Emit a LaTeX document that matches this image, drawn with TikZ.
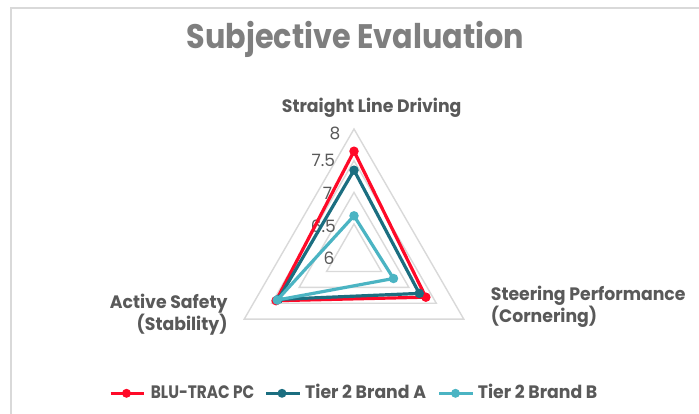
\documentclass[tikz,border=0pt]{standalone}
\usepackage{fontspec}
\setmainfont{Poppins}[FakeStretch=0.96]
\newfontfamily\titlefont{Poppins}[FakeStretch=0.89]
\newfontfamily\capsfont{Poppins}[FakeStretch=0.85]
\newfontfamily\numfont{Poppins}
\usepackage{tikz}
\usetikzlibrary{positioning}

\definecolor{blutrac}{HTML}{FF0A28}
\definecolor{brandA}{HTML}{1B6E80}
\definecolor{brandB}{HTML}{4BB4C3}
\definecolor{gridgray}{HTML}{D9D9D9}
\definecolor{txtgray}{HTML}{595959}
\definecolor{titlegray}{HTML}{7F7F7F}

\begin{document}
\begin{tikzpicture}[x=1pt,y=-1pt]
	
	\tikzset{grid/.style = {draw=gridgray, line width=1.4pt}}
	\tikzset{series/.style = {line width=3.2pt, line join=round}}
	\tikzset{dot/.style = {shape=circle, inner sep=0pt, minimum size=9.5pt}}
	\tikzset{axislabel/.style = {font=\bfseries\fontsize{18}{17.5}\selectfont, text=txtgray, inner sep=0pt}}
	\tikzset{ticklabel/.style = {font=\numfont\fontsize{17}{17}\selectfont, text=txtgray, inner sep=0pt}}
	
	\useasboundingbox (0,0) rectangle (699,414);
	\fill[white] (0,0) rectangle (699,414);
	\draw[grid] (11,420) -- (11,8) -- (710,8);
	
	\node[font=\titlefont\bfseries\fontsize{34}{34}\selectfont, text=titlegray, anchor=base, inner sep=0pt] (title) at (355.5,49) {Subjective Evaluation};
	
	\begin{scope}[shift={(354,255.7)}, y=1pt]
	% grid: 6.5, 7, 7.5, 8
	\draw[grid] (90:31.7) -- (210:31.7) -- (330:31.7) -- cycle;
	\draw[grid] (90:63.3) -- (210:63.3) -- (330:63.3) -- cycle;
	\draw[grid] (90:95) -- (210:95) -- (330:95) -- cycle;
	\draw[grid] (90:126.7) -- (210:126.7) -- (330:126.7) -- cycle;
	
	\node[ticklabel] (t8) at (-19,122.4) {8};
	\node[ticklabel] (t75) at (-30.6,95.2) {7.5};
	\node[ticklabel] (t7) at (-26.6,62.7) {7};
	\node[ticklabel] (t65) at (-30.6,29.9) {6.5};
	\node[ticklabel] (t6) at (-25,-2.1) {6};
	
	% BLU-TRAC PC
	\coordinate (r1) at (90:104.5);
	\coordinate (r2) at (330:83);
	\coordinate (r3) at (210:90);
	\draw[series, blutrac] (r1) -- (r2) -- (r3) -- cycle;
	\node[dot, fill=blutrac] (r1dot) at (r1) {};
	\node[dot, fill=blutrac] (r2dot) at (r2) {};
	\node[dot, fill=blutrac] (r3dot) at (r3) {};
	
	% Tier 2 Brand A
	\coordinate (a1) at (90:85.5);
	\coordinate (a2) at (330:75.4);
	\coordinate (a3) at (210:87.4);
	\draw[series, brandA] (a1) -- (a2) -- (a3) -- cycle;
	\node[dot, fill=brandA] (a1dot) at (a1) {};
	\node[dot, fill=brandA] (a2dot) at (a2) {};
	\node[dot, fill=brandA] (a3dot) at (a3) {};
	
	% Tier 2 Brand B
	\coordinate (b1) at (90:39.9);
	\coordinate (b2) at (330:45.6);
	\coordinate (b3) at (210:88.7);
	\draw[series, brandB] (b1) -- (b2) -- (b3) -- cycle;
	\node[dot, fill=brandB] (b1dot) at (b1) {};
	\node[dot, fill=brandB] (b2dot) at (b2) {};
	\node[dot, fill=brandB] (b3dot) at (b3) {};
	\end{scope}
	
	\node[axislabel, anchor=base] (sld) at (371.7,112.7) {Straight Line Driving};
	\node[axislabel, anchor=base west, align=left] (sp) at (490.7,322.5) {Steering Performance\\(Cornering)};
	\node[axislabel, anchor=base east, align=right] (as) at (227.7,330.3) {Active Safety\\(Stability)};
	
	% legend
	\coordinate (lr0) at (110.7,393.3);
	\coordinate (lr1) at (144.3,393.3);
	\draw[blutrac, line width=2.6pt] (lr0) -- (lr1);
	\node[dot, fill=blutrac, minimum size=9pt] (lrdot) at (126.5,393.3) {};
	\node[axislabel, anchor=base west] (lrtxt) at (150.7,398.3) {\capsfont BLU-TRAC PC};
	
	\coordinate (la0) at (266,393.3);
	\coordinate (la1) at (300,393.3);
	\draw[brandA, line width=2.6pt] (la0) -- (la1);
	\node[dot, fill=brandA, minimum size=9pt] (ladot) at (282,393.3) {};
	\node[axislabel, anchor=base west] (latxt) at (305,398.3) {Tier 2 Brand A};
	
	\coordinate (lb0) at (439,393.3);
	\coordinate (lb1) at (472.7,393.3);
	\draw[brandB, line width=2.6pt] (lb0) -- (lb1);
	\node[dot, fill=brandB, minimum size=9pt] (lbdot) at (455.5,393.3) {};
	\node[axislabel, anchor=base west] (lbtxt) at (477.7,398.3) {Tier 2 Brand B};
\end{tikzpicture}
\end{document}
